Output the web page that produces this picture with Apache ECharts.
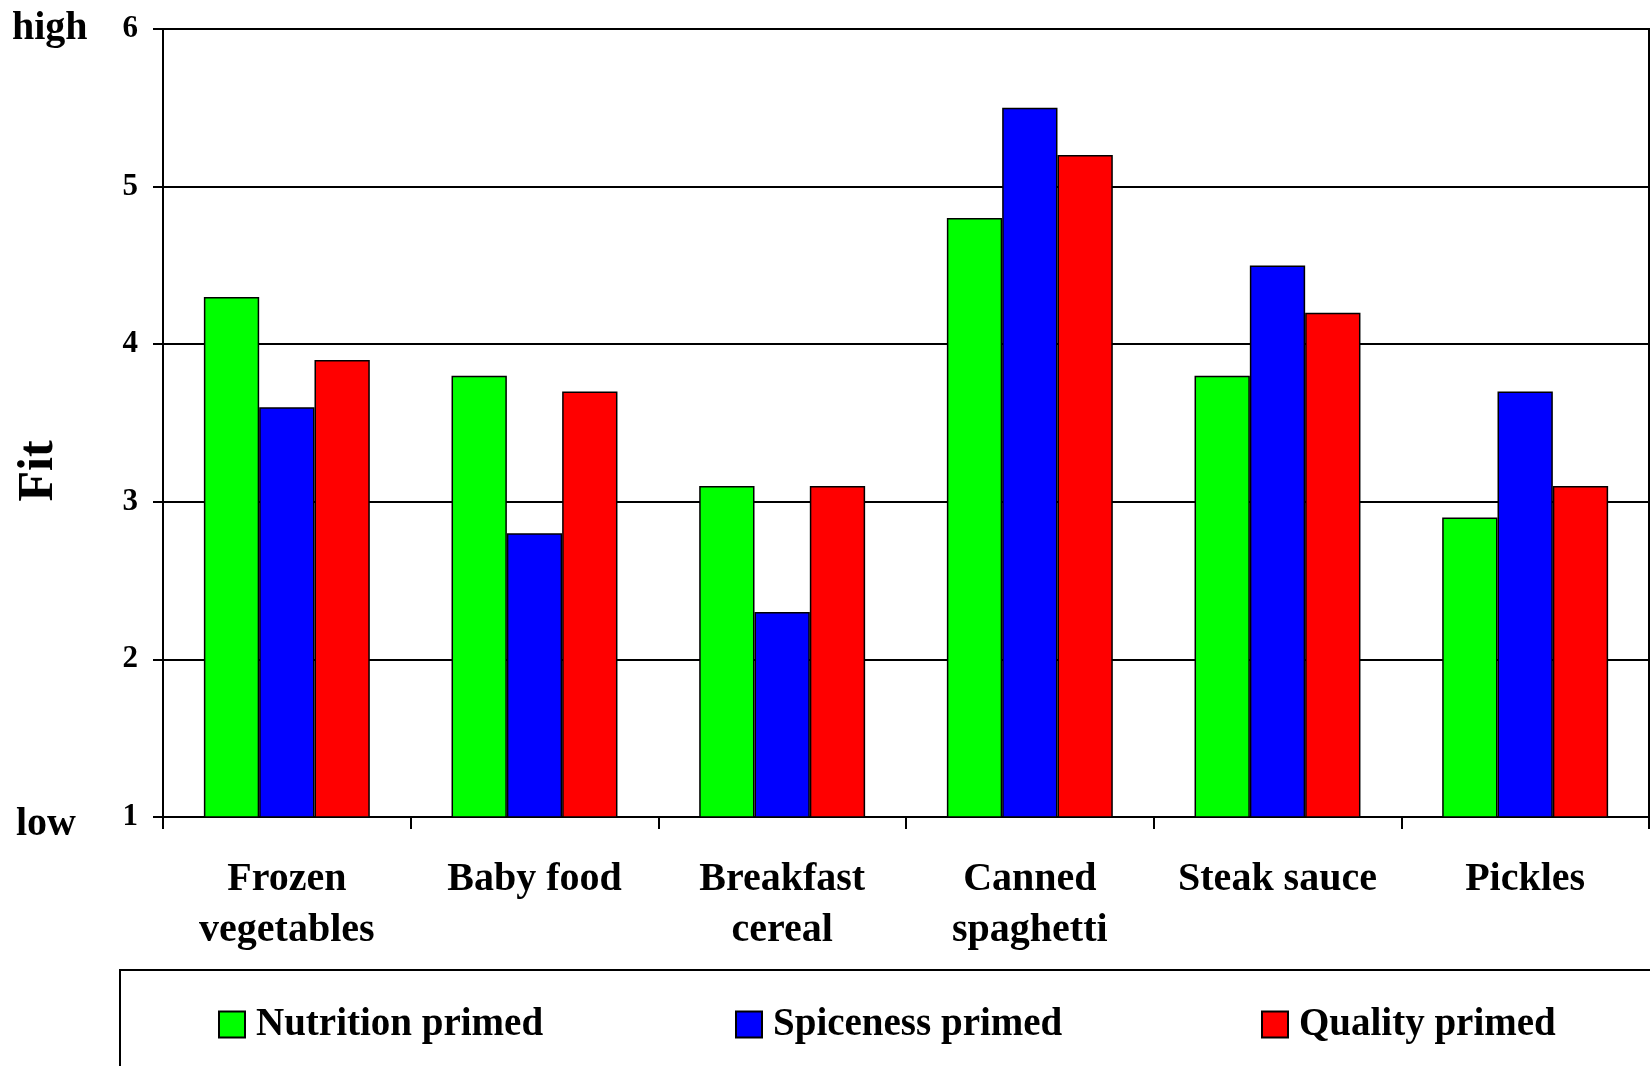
<!DOCTYPE html>
<html>
<head>
<meta charset="utf-8">
<script src="https://cdn.jsdelivr.net/npm/echarts@6/dist/echarts.min.js"></script>
<style>
  html, body { margin: 0; padding: 0; background: #fff; }
  #chart { width: 1650px; height: 1066px; }
</style>
</head>
<body>
<div id="chart"></div>
<script>
// Product categories (x axis)
const categories = ['Frozen\nvegetables', 'Baby food', 'Breakfast\ncereal', 'Canned\nspaghetti', 'Steak sauce', 'Pickles'];

// Fit ratings per priming condition
const nutritionPrimed = [4.3, 3.8, 3.1, 4.8, 3.8, 2.9];
const spicenessPrimed = [3.6, 2.8, 2.3, 5.5, 4.5, 3.7];
const qualityPrimed   = [3.9, 3.7, 3.1, 5.2, 4.2, 3.1];

const seriesNames = ['Nutrition primed', 'Spiceness primed', 'Quality primed'];
const seriesColors = ['#00ff00', '#0000ff', '#ff0000'];

// Y axis scale
const yMin = 1, yMax = 6, yStep = 1;

const FONT = "'Liberation Serif', 'Times New Roman', serif";

const chart = echarts.init(document.getElementById('chart'), null, { renderer: 'canvas' });

function barSeries(name, data, color) {
  return {
    name: name,
    type: 'bar',
    data: data,
    barGap: '0%',
    barCategoryGap: '33%',
    itemStyle: { color: color, borderColor: '#000', borderWidth: 1.5 },
    emphasis: { disabled: true }
  };
}

function legendAt(name, left) {
  return {
    data: [name],
    left: left,
    top: 1000,
    orient: 'horizontal',
    icon: 'rect',
    itemWidth: 26,
    itemHeight: 26,
    selectedMode: false,
    textStyle: {
      fontFamily: FONT, fontWeight: 'bold', fontSize: 39, color: '#000',
      padding: [0, 0, 0, 6]
    }
  };
}

chart.setOption({
  animation: false,
  backgroundColor: '#fff',
  grid: {
    left: 163, top: 29, right: 1, bottom: 249,
    show: true, borderColor: '#000', borderWidth: 2, backgroundColor: 'transparent'
  },
  legend: [
    legendAt(seriesNames[0], 213),
    legendAt(seriesNames[1], 730),
    legendAt(seriesNames[2], 1256)
  ],
  xAxis: {
    type: 'category',
    data: categories,
    boundaryGap: true,
    axisLine: { lineStyle: { color: '#000', width: 2 } },
    axisTick: { show: true, length: 12, lineStyle: { color: '#000', width: 2 } },
    axisLabel: {
      interval: 0,
      margin: 37,
      fontFamily: FONT, fontWeight: 'bold', fontSize: 40, color: '#000',
      lineHeight: 51
    }
  },
  yAxis: {
    type: 'value',
    min: yMin, max: yMax, interval: yStep,
    axisLine: { show: true, lineStyle: { color: '#000', width: 2 } },
    axisTick: { show: true, length: 10, lineStyle: { color: '#000', width: 2 } },
    axisLabel: {
      margin: 25,
      fontFamily: FONT, fontWeight: 'bold', fontSize: 31, color: '#000'
    },
    splitLine: { show: true, lineStyle: { color: '#000', width: 2 } }
  },
  series: [
    barSeries(seriesNames[0], nutritionPrimed, seriesColors[0]),
    barSeries(seriesNames[1], spicenessPrimed, seriesColors[1]),
    barSeries(seriesNames[2], qualityPrimed, seriesColors[2])
  ],
  graphic: [
    {
      type: 'text', left: 12, top: 9,
      style: { text: 'high', font: "bold 40px " + FONT, fill: '#000' }
    },
    {
      type: 'text', left: 16, top: 805,
      style: { text: 'low', font: "bold 40px " + FONT, fill: '#000' }
    },
    {
      type: 'text', x: 39, y: 471, rotation: Math.PI / 2,
      style: {
        text: 'Fit', font: "bold 50px " + FONT, fill: '#000',
        align: 'center', verticalAlign: 'middle'
      }
    },
    {
      type: 'rect', silent: true,
      shape: { x: 120, y: 970, width: 1580, height: 200 },
      style: { fill: 'none', stroke: '#000', lineWidth: 2 }
    }
  ]
});
</script>
</body>
</html>
